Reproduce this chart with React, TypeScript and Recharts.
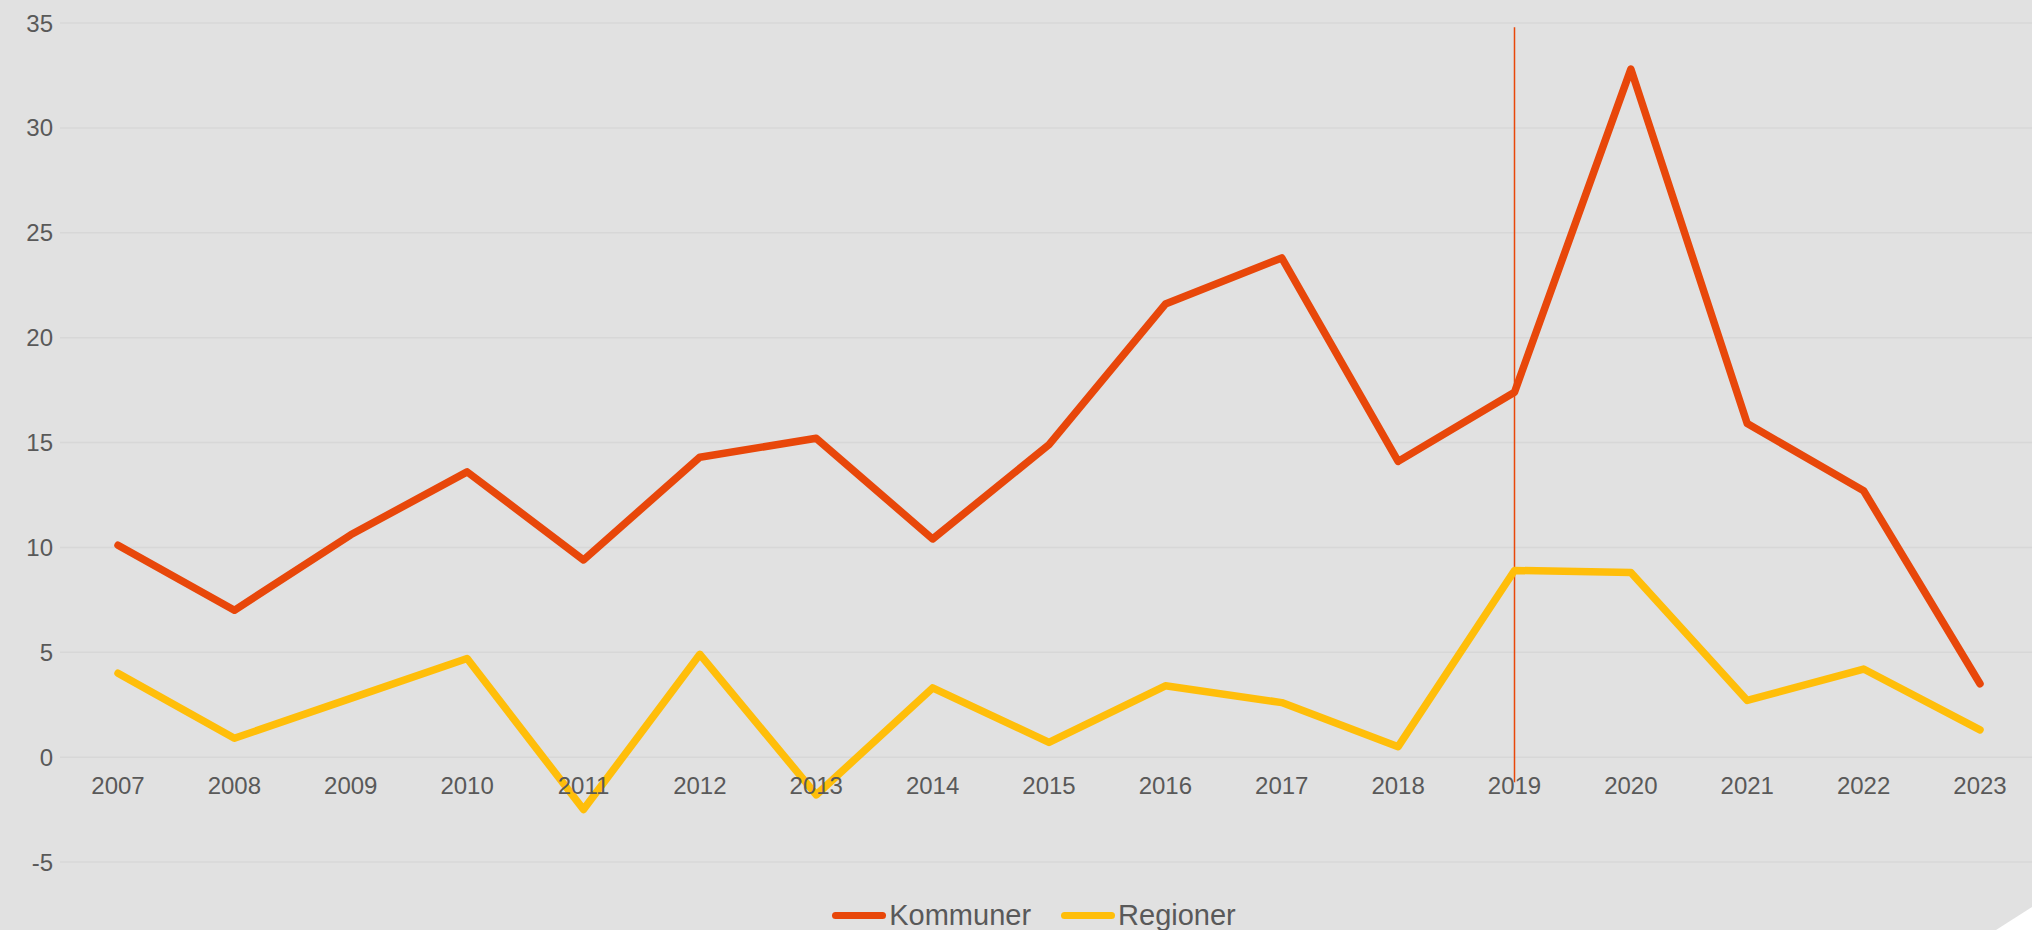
import React from "react";
import {
  LineChart,
  Line,
  XAxis,
  YAxis,
  CartesianGrid,
  Legend,
  ReferenceLine,
} from "recharts";

const years = [
  "2007", "2008", "2009", "2010", "2011", "2012", "2013", "2014", "2015",
  "2016", "2017", "2018", "2019", "2020", "2021", "2022", "2023",
];
const kommuner = [
  10.1, 7.0, 10.6, 13.6, 9.4, 14.3, 15.2, 10.4, 14.9, 21.6, 23.8, 14.1, 17.4,
  32.8, 15.9, 12.7, 3.5,
];
const regioner = [
  4.0, 0.9, 2.8, 4.7, -2.5, 4.9, -1.8, 3.3, 0.7, 3.4, 2.6, 0.5, 8.9, 8.8, 2.7,
  4.2, 1.3,
];
const yTicks = [-5, 0, 5, 10, 15, 20, 25, 30, 35];
const markerYear = "2019";

const data = years.map((year, i) => ({
  year,
  Kommuner: kommuner[i],
  Regioner: regioner[i],
}));

const FONT = '"Liberation Sans", Arial, sans-serif';
const TEXT = "#595959";
const RED = "#E8470A";
const YELLOW = "#FFBE0A";

// labels sit next to the zero line, not at the bottom of the plot
const YearTick = ({ x, y, payload }: any) => (
  <text
    x={x}
    y={y - 77}
    textAnchor="middle"
    dominantBaseline="central"
    fontSize={24}
    fontFamily={FONT}
    fill={TEXT}
  >
    {payload.value}
  </text>
);

const LegendContent = ({ payload }: any) => (
  <div
    style={{
      height: 40,
      paddingTop: 10,
      paddingLeft: 30,
      boxSizing: "border-box",
      display: "flex",
      justifyContent: "center",
      alignItems: "center",
      gap: 30,
      fontFamily: FONT,
      fontSize: 29,
      color: TEXT,
    }}
  >
    {(payload || []).map((entry: any) => (
      <span key={entry.value} style={{ display: "flex", alignItems: "center", gap: 3 }}>
        <span
          style={{
            display: "inline-block",
            width: 54,
            height: 7,
            borderRadius: 4,
            background: entry.color,
          }}
        />
        {entry.value}
      </span>
    ))}
  </div>
);

export default function App() {
  return (
    <div
      style={{
        position: "fixed",
        left: 0,
        top: 0,
        width: 2032,
        height: 930,
        overflow: "hidden",
        background: "#E1E1E1",
      }}
    >
      <LineChart
        width={2040}
        height={930}
        data={data}
        margin={{ top: 23, right: 2, bottom: 0, left: 0 }}
      >
        <CartesianGrid
          vertical={false}
          stroke="#D7D7D7"
          strokeWidth={1.5}
        />
        <XAxis
          dataKey="year"
          height={28}
          axisLine={false}
          tickLine={false}
          tickSize={0}
          tickMargin={0}
          interval={0}
          padding={{ left: 58, right: 58 }}
          tick={<YearTick />}
        />
        <YAxis
          width={60}
          domain={[-5, 35]}
          ticks={yTicks}
          axisLine={false}
          tickLine={false}
          tickSize={0}
          tickMargin={7}
          tick={{ fontSize: 24, fill: TEXT, fontFamily: FONT }}
        />
        <Legend verticalAlign="bottom" content={<LegendContent />} />
        <ReferenceLine
          segment={[
            { x: markerYear, y: -1.2 },
            { x: markerYear, y: 34.8 },
          ]}
          stroke={RED}
          strokeWidth={1.5}
        />
        <Line
          type="linear"
          dataKey="Kommuner"
          stroke={RED}
          strokeWidth={7.5}
          strokeLinejoin="round"
          strokeLinecap="round"
          dot={false}
          isAnimationActive={false}
        />
        <Line
          type="linear"
          dataKey="Regioner"
          stroke={YELLOW}
          strokeWidth={7.5}
          strokeLinejoin="round"
          strokeLinecap="round"
          dot={false}
          isAnimationActive={false}
        />
      </LineChart>
      <svg
        width={2032}
        height={930}
        style={{ position: "absolute", left: 0, top: 0, pointerEvents: "none" }}
      >
        <polygon points="1996,930 2032,907 2032,930" fill="#FFFFFF" />
      </svg>
    </div>
  );
}
